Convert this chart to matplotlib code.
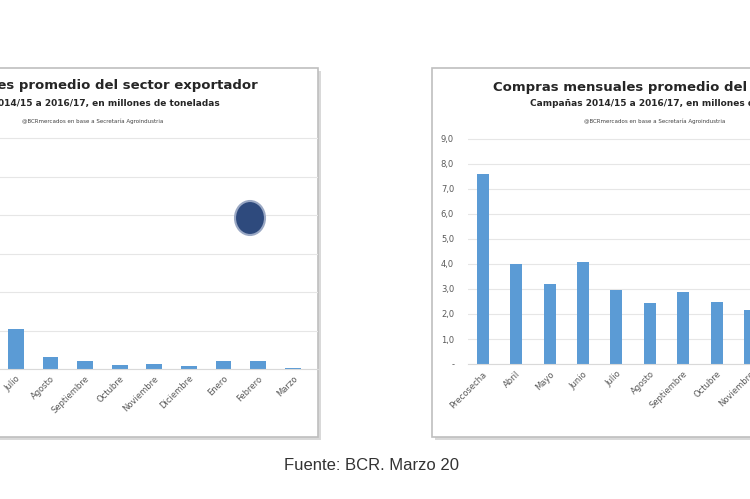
import matplotlib.pyplot as plt
from matplotlib.patches import Rectangle, Ellipse

W, H = 750, 499
bar_col = '#5b9bd5'
grid_col = '#e6e6e6'
txt_col = '#595959'

left_months = ['Julio', 'Agosto', 'Septiembre', 'Octubre', 'Noviembre',
               'Diciembre', 'Enero', 'Febrero', 'Marzo']
left_values = [1.05, 0.3, 0.2, 0.1, 0.12, 0.08, 0.22, 0.22, 0.03]

right_months = ['Precosecha', 'Abril', 'Mayo', 'Junio', 'Julio', 'Agosto',
                'Septiembre', 'Octubre', 'Noviembre']
right_values = [7.6, 4.0, 3.2, 4.1, 2.95, 2.45, 2.9, 2.5, 2.15]
right_yticks = [0, 1, 2, 3, 4, 5, 6, 7, 8, 9]
right_ylabels = ['-', '1,0', '2,0', '3,0', '4,0', '5,0', '6,0', '7,0', '8,0', '9,0']

fam = ['Liberation Sans Narrow', 'DejaVu Sans']

fig = plt.figure(figsize=(W / 100, H / 100), dpi=100)


def px(x0, y0, x1, y1):
    # pixel box (top-left origin) -> figure fraction rect
    return [x0 / W, 1 - y1 / H, (x1 - x0) / W, (y1 - y0) / H]


# panel frames with light shadow
for x0, y0, x1, y1 in [(-10, 68, 318, 437), (432, 68, 760, 437)]:
    fig.patches.append(Rectangle((x0 / W + 0.004, 1 - (y1 + 3) / H), (x1 - x0) / W, (y1 - y0) / H,
                                 transform=fig.transFigure, facecolor='#d9d9d9', edgecolor='none', zorder=-2))
    fig.patches.append(Rectangle((x0 / W, 1 - y1 / H), (x1 - x0) / W, (y1 - y0) / H,
                                 transform=fig.transFigure, facecolor='white', edgecolor='#bfbfbf',
                                 linewidth=1.2, zorder=-1))


def style(ax):
    ax.patch.set_alpha(0)
    ax.set_zorder(2)
    for s in ax.spines.values():
        s.set_visible(False)
    ax.spines['bottom'].set_visible(True)
    ax.spines['bottom'].set_color('#d9d9d9')
    ax.grid(axis='y', color=grid_col, linewidth=0.8, zorder=0)


# left chart
ax1 = fig.add_axes(px(0, 135, 318, 369))
ax1.bar(range(len(left_months)), left_values, width=0.46, color=bar_col, zorder=2)
ax1.set_xlim(-0.46, 8.73)
ax1.set_ylim(0, 6.08)
ax1.set_yticks(range(0, 7))
ax1.set_yticklabels([])
ax1.set_xticks(range(len(left_months)))
ax1.set_xticklabels(left_months, rotation=45, ha='right', rotation_mode='anchor',
                    fontsize=6, color=txt_col, family=fam)
ax1.tick_params(length=0)
style(ax1)

# logo
fig.patches.append(Ellipse((250 / W, 1 - 218 / H), 30 / W, 34 / H, transform=fig.transFigure,
                           facecolor='#2e4a7d', edgecolor='#9aa8c4', linewidth=1.5, zorder=3))

# right chart
ax2 = fig.add_axes(px(468, 134, 750, 364))
ax2.bar(range(len(right_months)), right_values, width=0.36, color=bar_col, zorder=2)
ax2.set_xlim(-0.44, 7.76)
ax2.set_ylim(0, 9.2)
ax2.set_yticks(right_yticks)
ax2.set_yticklabels(right_ylabels, fontsize=6, color=txt_col, family=fam)
ax2.set_xticks(range(len(right_months)))
ax2.set_xticklabels(right_months, rotation=45, ha='right', rotation_mode='anchor',
                    fontsize=6, color=txt_col, family=fam)
ax2.tick_params(axis='y', length=0, pad=10)
ax2.tick_params(axis='x', length=0, pad=4)
style(ax2)


def ftxt(x, y, s, **kw):
    fig.text(x / W, 1 - y / H, s, va='center', family=fam, **kw)


ftxt(258, 86, 'Compras mensuales promedio del sector exportador', ha='right',
     fontsize=9.5, fontweight='bold', color='#262626')
ftxt(220, 104, 'Campañas 2014/15 a 2016/17, en millones de toneladas', ha='right',
     fontsize=6.5, fontweight='bold', color='#262626')
ftxt(163, 121, '@BCRmercados en base a Secretaría Agroindustria', ha='right',
     fontsize=4, color='#404040')

ftxt(493, 87, 'Compras mensuales promedio del sector exportador', ha='left',
     fontsize=9.5, fontweight='bold', color='#262626')
ftxt(530, 104, 'Campañas 2014/15 a 2016/17, en millones de toneladas', ha='left',
     fontsize=6.5, fontweight='bold', color='#262626')
ftxt(584, 121, '@BCRmercados en base a Secretaría Agroindustria', ha='left',
     fontsize=4, color='#404040')

fig.text(372 / W, 1 - 465 / H, 'Fuente: BCR. Marzo 20', ha='center', va='center',
         fontsize=12, color='#333333', family=['Liberation Sans', 'DejaVu Sans'])

fig.savefig('out.png', dpi=100)
